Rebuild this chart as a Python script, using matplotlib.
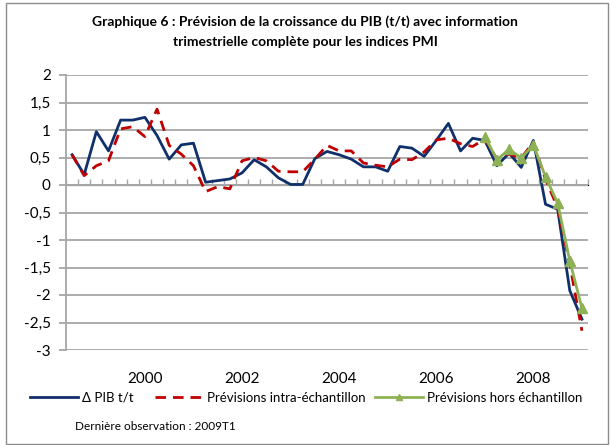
#!/usr/bin/env python3

import matplotlib
matplotlib.use("Agg")
import matplotlib.pyplot as plt
from matplotlib.patches import Rectangle
from matplotlib.lines import Line2D
import numpy as np

plt.rcParams['font.family'] = ['Lato', 'DejaVu Sans']

# quarters 1998T3 .. 2009T1
quarters = ["%dT%d" % (y, q) for y in range(1998, 2010) for q in range(1, 5)][2:45]
year_labels = ["2000", "2002", "2004", "2006", "2008"]

pib = [0.55, 0.19, 0.97, 0.62, 1.18, 1.18, 1.23, 0.90, 0.47, 0.73,
       0.76, 0.05, 0.08, 0.11, 0.22, 0.46, 0.33, 0.13, 0.01, 0.01,
       0.48, 0.61, 0.55, 0.47, 0.33, 0.33, 0.25, 0.70, 0.67, 0.52,
       0.81, 1.12, 0.62, 0.85, 0.81, 0.35, 0.58, 0.32, 0.81, -0.35,
       -0.44, -1.92, -2.44]
prev_intra = [0.55, 0.17, 0.35, 0.44, 1.02, 1.06, 0.88, 1.38, 0.72, 0.56,
              0.35, -0.12, -0.03, -0.07, 0.44, 0.50, 0.44, 0.25, 0.24, 0.24,
              0.47, 0.72, 0.62, 0.62, 0.40, 0.36, 0.33, 0.47, 0.46, 0.60,
              0.82, 0.85, 0.75, 0.70, 0.84, 0.47, 0.56, 0.49, 0.78, 0.10,
              -0.41, -1.44, -2.65]
prev_hors_start = "2007T1"
prev_hors = [0.88, 0.46, 0.65, 0.49, 0.73, 0.15, -0.33, -1.38, -2.24]

navy = "#10306B"
red = "#C00000"
green = "#8DB255"
grid = "#A6A6A6"
dash = (0, (3.8, 2.5))

x = np.arange(len(quarters))
s0 = quarters.index(prev_hors_start)
x_hors = x[s0:s0 + len(prev_hors)]

fig = plt.figure(figsize=(6.1, 4.45), dpi=100)
ax = fig.add_axes([66/610, 1-350/445, 522/610, 275/445])

ax.plot(x, pib, color=navy, lw=2.0, zorder=3)
ax.plot(x, prev_intra, color=red, lw=2.0, ls=dash, zorder=4)
ax.plot(x_hors, prev_hors, color=green, lw=2.0, marker='^', ms=7,
        markeredgecolor=green, zorder=5)

ax.set_xlim(-0.5, len(quarters) - 0.5)
ax.set_ylim(-3, 2)
yt = np.arange(-3, 2.01, 0.5)
ax.set_yticks(yt)
ax.set_yticklabels([("%g" % v).replace(".", ",") for v in yt], fontsize=11)
ax.yaxis.grid(True, color=grid, lw=1.3)
ax.set_axisbelow(True)
for s in ["top", "right", "bottom"]:
    ax.spines[s].set_visible(False)
ax.spines["left"].set_color(grid)
ax.spines["left"].set_linewidth(1.3)
ax.tick_params(axis='y', length=5, width=1.3, color=grid, pad=6)

# year labels at the bottom
ax.set_xticks([quarters.index(y + "T1") for y in year_labels])
ax.set_xticklabels(year_labels, fontsize=11)
ax.tick_params(axis='x', length=0, pad=16)

# category axis through zero
ax.axhline(0, color=grid, lw=1.3, zorder=2)
sec = ax.secondary_xaxis(0.6)
sec.set_xticks(np.arange(-0.5, len(quarters), 1))
sec.set_xticklabels([])
sec.tick_params(length=4, width=1, color=grid)
sec.spines["bottom"].set_visible(False)

fig.text(0.5, 1-22/445, "Graphique 6 : Prévision de la croissance du PIB (t/t) avec information",
         ha="center", va="center", fontsize=10, fontweight="bold")
fig.text(0.5, 1-42/445, "trimestrielle complète pour les indices PMI",
         ha="center", va="center", fontsize=10, fontweight="bold")

# legend, one entry per box so the spacing follows the reference
entries = [(Line2D([], [], color=navy, lw=2.0), "Δ PIB t/t", 30),
           (Line2D([], [], color=red, lw=2.0, ls=dash), "Prévisions intra-échantillon", 155),
           (Line2D([], [], color=green, lw=2.0, marker='^', ms=5), "Prévisions hors échantillon", 375)]
for h, lab, px in entries:
    leg = fig.legend([h], [lab], loc="center left", bbox_to_anchor=(px/610, 1-398/445),
                     frameon=False, fontsize=9.5, handlelength=3.6, handletextpad=0.35,
                     borderpad=0, borderaxespad=0)

fig.text(75/610, 1-427/445, "Dernière observation : 2009T1", fontsize=8.5, va="center")

fig.patches.append(Rectangle((6/610, 1/445), 602/610, 441/445, transform=fig.transFigure,
                             fill=False, edgecolor="#8C8C8C", lw=1))

fig.savefig("out.png", dpi=100)
